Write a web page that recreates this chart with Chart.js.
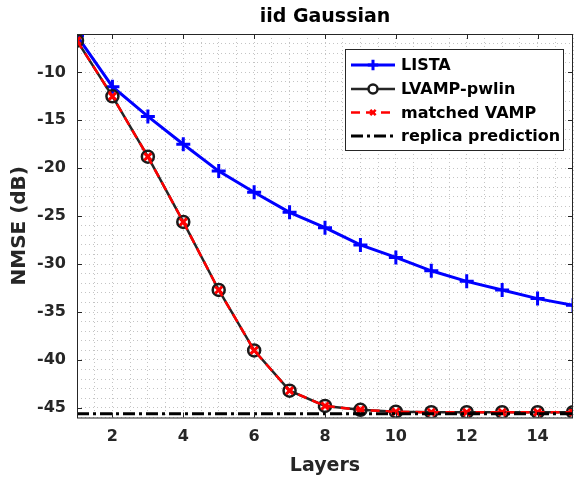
<!DOCTYPE html>
<html>
<head>
<meta charset="utf-8">
<script src="https://cdn.jsdelivr.net/npm/chart.js@4.4.1/dist/chart.umd.min.js"></script>
<style>
  html, body { margin: 0; padding: 0; background: #fff; }
  #wrap { width: 583px; height: 478px; }
</style>
</head>
<body>
<div id="wrap"><canvas id="chart" width="583" height="478"></canvas></div>
<script>
const layers = [1, 2, 3, 4, 5, 6, 7, 8, 9, 10, 11, 12, 13, 14, 15];
const lista = [-6.2, -11.5, -14.6, -17.5, -20.3, -22.5, -24.6, -26.2, -28.0, -29.3, -30.7, -31.8, -32.7, -33.6, -34.3];
const lvampPwlin = [-6.7, -12.5, -18.8, -25.6, -32.7, -39.0, -43.2, -44.8, -45.2, -45.4, -45.45, -45.45, -45.45, -45.45, -45.45];
const matchedVamp = [-6.7, -12.5, -18.8, -25.6, -32.7, -39.0, -43.2, -44.8, -45.2, -45.4, -45.45, -45.45, -45.45, -45.45, -45.45];
const replicaX = [1, 15];
const replicaY = [-45.6, -45.6];
const xTickLabels = [2, 4, 6, 8, 10, 12, 14];
const yTickLabels = [-10, -15, -20, -25, -30, -35, -40, -45];

const FONT = "'DejaVu Sans', sans-serif";
const AXIS_COLOR = "#262626";

const toPoints = (xs, ys) => xs.map((x, i) => ({ x, y: ys[i] }));

// box, inward ticks, titles and legend
const decorations = {
  id: "decorations",
  afterDraw(chart) {
    const { ctx, chartArea: a, scales } = chart;
    const xs = scales.x, ys = scales.y;
    ctx.save();
    ctx.strokeStyle = AXIS_COLOR;
    ctx.lineWidth = 1;
    ctx.strokeRect(a.left + 0.5, a.top + 0.5, a.right - a.left - 1, a.bottom - a.top);
    ctx.beginPath();
    xTickLabels.forEach((v) => {
      const px = Math.round(xs.getPixelForValue(v)) + 0.5;
      ctx.moveTo(px, a.bottom); ctx.lineTo(px, a.bottom - 5);
      ctx.moveTo(px, a.top); ctx.lineTo(px, a.top + 5);
    });
    yTickLabels.forEach((v) => {
      const py = Math.round(ys.getPixelForValue(v)) + 0.5;
      ctx.moveTo(a.left, py); ctx.lineTo(a.left + 5, py);
      ctx.moveTo(a.right, py); ctx.lineTo(a.right - 5, py);
    });
    ctx.stroke();

    ctx.fillStyle = "#000";
    ctx.textAlign = "center";
    ctx.textBaseline = "middle";
    ctx.font = "bold 19px " + FONT;
    ctx.fillText("iid Gaussian", (a.left + a.right) / 2, 17);
    ctx.fillStyle = AXIS_COLOR;
    ctx.fillText("Layers", (a.left + a.right) / 2, 466);
    ctx.save();
    ctx.translate(20, (a.top + a.bottom) / 2);
    ctx.rotate(-Math.PI / 2);
    ctx.font = "bold 20px " + FONT;
    ctx.fillText("NMSE (dB)", 0, 0);
    ctx.restore();

    // legend
    const lx = 345, ly = 49, lw = 218, lh = 101;
    ctx.fillStyle = "#fff";
    ctx.fillRect(lx, ly, lw, lh);
    ctx.strokeStyle = AXIS_COLOR;
    ctx.lineWidth = 1;
    ctx.strokeRect(lx + 0.5, ly + 0.5, lw, lh);
    const rows = [65, 89, 112.5, 136];
    chart.data.datasets.forEach((ds, i) => {
      const y = rows[i];
      ctx.save();
      ctx.strokeStyle = ds.borderColor;
      ctx.lineWidth = ds.borderWidth;
      ctx.setLineDash(ds.borderDash || []);
      ctx.beginPath();
      ctx.moveTo(351, y); ctx.lineTo(395, y);
      ctx.stroke();
      ctx.setLineDash([]);
      if (ds.pointStyle && ds.pointRadius > 0) {
        ctx.fillStyle = "#fff";
        ctx.strokeStyle = ds.pointBorderColor;
        Chart.helpers.drawPoint(ctx, {
          pointStyle: ds.pointStyle,
          radius: ds.pointStyle === "circle" ? 4.5 : ds.pointRadius * 0.75,
          borderWidth: ds.pointBorderWidth
        }, 373, y);
      }
      ctx.restore();
      ctx.fillStyle = "#000";
      ctx.textAlign = "left";
      ctx.font = "bold 16px " + FONT;
      ctx.fillText(ds.label, 401, y + 1);
    });
    ctx.restore();
  }
};

new Chart(document.getElementById("chart"), {
  type: "line",
  data: {
    datasets: [
      {
        label: "LISTA",
        data: toPoints(layers, lista),
        borderColor: "#0000ff",
        backgroundColor: "#0000ff",
        borderWidth: 3,
        pointStyle: "cross",
        pointRadius: 7,
        pointBorderWidth: 3,
        pointBorderColor: "#0000ff",
        order: 4
      },
      {
        label: "LVAMP-pwlin",
        data: toPoints(layers, lvampPwlin),
        borderColor: "#262626",
        backgroundColor: "rgba(0,0,0,0)",
        borderWidth: 2.5,
        pointStyle: "circle",
        pointRadius: 6,
        pointBorderWidth: 2.5,
        pointBorderColor: "#1a1a1a",
        pointBackgroundColor: "rgba(0,0,0,0)",
        order: 3
      },
      {
        label: "matched VAMP",
        data: toPoints(layers, matchedVamp),
        borderColor: "#ff0000",
        backgroundColor: "#ff0000",
        borderWidth: 2.5,
        borderDash: [9, 6],
        pointStyle: "crossRot",
        pointRadius: 5,
        pointBorderWidth: 3,
        pointBorderColor: "#ff0000",
        order: 2
      },
      {
        label: "replica prediction",
        data: toPoints(replicaX, replicaY),
        borderColor: "#000000",
        backgroundColor: "#000000",
        borderWidth: 3,
        borderDash: [12, 4, 3, 4],
        pointRadius: 0,
        order: 1
      }
    ]
  },
  options: {
    responsive: false,
    animation: false,
    events: [],
    layout: { padding: { top: 34, right: 6, left: 0, bottom: 0 } },
    plugins: { legend: { display: false }, tooltip: { enabled: false }, title: { display: false } },
    scales: {
      x: {
        type: "linear",
        min: 1,
        max: 15,
        afterFit: (s) => { s.height = 60.5; },
        afterBuildTicks: (s) => {
          const t = [];
          for (let v = 1; v <= 15.001; v += 0.5) t.push({ value: v });
          s.ticks = t;
        },
        ticks: {
          autoSkip: false,
          maxRotation: 0,
          padding: 10,
          color: AXIS_COLOR,
          font: { family: FONT, size: 16, weight: "bold" },
          callback: (v) => (xTickLabels.includes(v) ? String(v) : "")
        },
        grid: { color: "#c4c4c4", lineWidth: 1, drawTicks: false },
        border: { display: false, dash: [1, 3] }
      },
      y: {
        type: "linear",
        min: -46,
        max: -6,
        afterFit: (s) => { s.width = 77; },
        afterBuildTicks: (s) => {
          const t = [];
          for (let v = -46; v <= -6; v += 1) t.push({ value: v });
          s.ticks = t;
        },
        ticks: {
          autoSkip: false,
          padding: 11,
          color: AXIS_COLOR,
          font: { family: FONT, size: 16, weight: "bold" },
          callback: (v) => (yTickLabels.includes(v) ? String(v) : "")
        },
        grid: { color: "#c4c4c4", lineWidth: 1, drawTicks: false },
        border: { display: false, dash: [1, 3] }
      }
    }
  },
  plugins: [decorations]
});
</script>
</body>
</html>
